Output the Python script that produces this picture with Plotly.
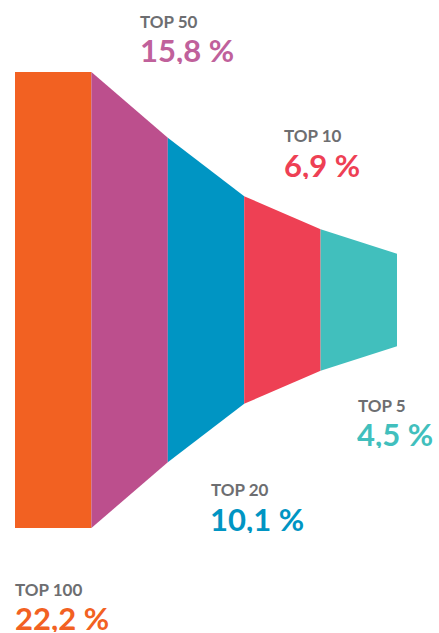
"""Pyramide des parts TOP 100 -> TOP 5 : entonnoir horizontal en Plotly"""

import plotly.graph_objects as go

W, H = 439, 633

# ── données ──
labels = ["TOP 100", "TOP 50", "TOP 20", "TOP 10", "TOP 5"]
values = [22.2, 15.8, 10.1, 6.9, 4.5]
value_texts = ["22,2 %", "15,8 %", "10,1 %", "6,9 %", "4,5 %"]
colors = ["#f26122", "#bc4f8d", "#0095c3", "#ee4054", "#41bfbd"]
text_colors = ["#f26122", "#c0619b", "#0095c3", "#ee4054", "#41bfbd"]

# ── géométrie des axes (pixels) ──
ML, MR = 15, 42
PX_PER_UNIT = 456 / values[0]
Y_CENTER = 300
y_top = Y_CENTER / PX_PER_UNIT
y_bottom = -(H - Y_CENTER) / PX_PER_UNIT


def paper_x(px):
    return (px - ML) / (W - ML - MR)


def paper_y(py):
    return (H - py) / H


fig = go.Figure()

# ── segments : rectangle pour le premier, trapèzes ensuite ──
for i, v in enumerate(values):
    prev = values[i - 1] if i > 0 else v
    xs = [i, i + 1, i + 1, i, i]
    ys = [prev / 2, v / 2, -v / 2, -prev / 2, prev / 2]
    fig.add_trace(
        go.Scatter(
            x=xs,
            y=ys,
            mode="lines",
            fill="toself",
            fillcolor=colors[i],
            line=dict(width=0, color=colors[i]),
            hoverinfo="skip",
            showlegend=False,
        )
    )

# ── étiquettes (gauche label, centre label, gauche valeur, centre valeur) en pixels ──
label_pos = [
    (13, 589, 13, 618),
    (138, 21, 138, 50),
    (209, 489, 208, 519),
    (282, 135, 282, 165),
    (356, 405, 355, 434),
]

for i, (lx, ly, vx, vy) in enumerate(label_pos):
    fig.add_annotation(
        x=paper_x(lx), y=paper_y(ly), xref="paper", yref="paper",
        text=labels[i], showarrow=False,
        xanchor="left", yanchor="middle",
        font=dict(family="Lato", size=17, color="#6d6e71", weight=700),
    )
    fig.add_annotation(
        x=paper_x(vx), y=paper_y(vy), xref="paper", yref="paper",
        text=value_texts[i], showarrow=False, height=28,
        xanchor="left", yanchor="middle",
        font=dict(family="Lato", size=31, color=text_colors[i], weight=700),
    )

fig.update_layout(
    width=W,
    height=H,
    margin=dict(l=ML, r=MR, t=0, b=0),
    paper_bgcolor="white",
    plot_bgcolor="white",
    xaxis=dict(range=[0, len(values)], visible=False, fixedrange=True),
    yaxis=dict(range=[y_bottom, y_top], visible=False, fixedrange=True),
)

fig.write_html(
    "out.html",
    config={"displayModeBar": False},
    post_script="document.body.style.margin='0';",
)
